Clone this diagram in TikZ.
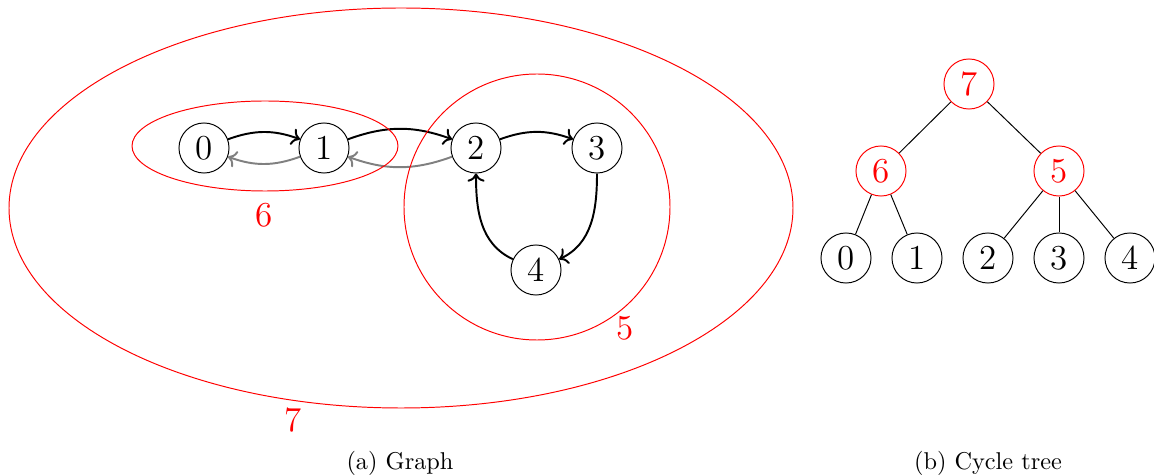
\documentclass[tikz,border=0pt]{standalone}
\usepackage{xcolor}
\usepackage{tikz}
\usetikzlibrary{
  arrows.meta,
  shapes.geometric,
  positioning
}
\tikzset{
  vtx/.style={draw, circle, minimum size=20.6pt, inner sep=0pt, font=\Large},
  cycvtx/.style={vtx, draw=red, text=red},
  arc/.style={->, thick, black},
  backarc/.style={->, thick, gray},
  cycline/.style={red},
  cyclabel/.style={text=red, font=\Large},
  treeedge/.style={black},
  subcap/.style={font=\normalsize}
}

\begin{document}
\begin{tikzpicture}[x=0.4115pt, y=-0.4115pt]
  \useasboundingbox (0,0) rectangle (1154,475);

  % graph
  \node[vtx] (g0) at (204,148) {0};
  \node[vtx] (g1) at (324,148) {1};
  \node[vtx] (g2) at (476,148) {2};
  \node[vtx] (g3) at (597,148) {3};
  \node[vtx] (g4) at (536,270) {4};

  \draw[arc] (g0) to[bend left=20] (g1);
  \draw[backarc] (g1) to[bend left=20] (g0);
  \draw[arc] (g1) to[bend left=20] (g2);
  \draw[backarc] (g2) to[bend left=20] (g1);
  \draw[arc] (g2) to[bend left=20] (g3);
  \draw[arc] (g3) to[out=-90, in=25] (g4);
  \draw[arc] (g4) to[out=155, in=-90] (g2);

  % cycles
  \draw[cycline] (265,146) ellipse [x radius=133, y radius=45];
  \draw[cycline] (537,207) ellipse [x radius=133, y radius=133];
  \draw[cycline] (401,208) ellipse [x radius=392, y radius=200];
  \node[cyclabel] (c6) at (264,215) {6};
  \node[cyclabel] (c5) at (625,328) {5};
  \node[cyclabel] (c7) at (293,420) {7};

  % cycle tree
  \node[cycvtx] (t7) at (969,84) {7};
  \node[cycvtx] (t6) at (881,171) {6};
  \node[cycvtx] (t5) at (1059,171) {5};
  \node[vtx] (t0) at (846,258) {0};
  \node[vtx] (t1) at (917,258) {1};
  \node[vtx] (t2) at (988,258) {2};
  \node[vtx] (t3) at (1059,258) {3};
  \node[vtx] (t4) at (1130,258) {4};

  \draw[treeedge] (t7) -- (t6);
  \draw[treeedge] (t7) -- (t5);
  \draw[treeedge] (t6) -- (t0);
  \draw[treeedge] (t6) -- (t1);
  \draw[treeedge] (t5) -- (t2);
  \draw[treeedge] (t5) -- (t3);
  \draw[treeedge] (t5) -- (t4);

  % captions
  \node[subcap] (capa) at (400,463) {(a) Graph};
  \node[subcap] (capb) at (988,463) {(b) Cycle tree};
\end{tikzpicture}
\end{document}
